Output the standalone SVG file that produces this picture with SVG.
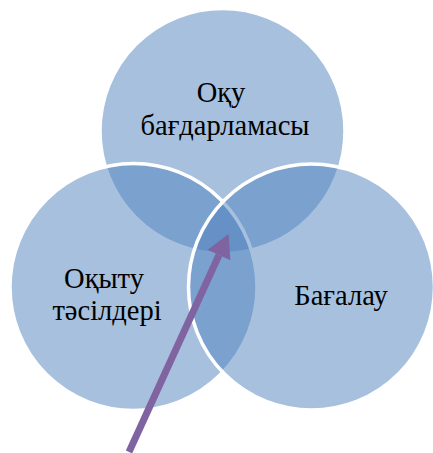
<svg xmlns="http://www.w3.org/2000/svg" width="433" height="453" viewBox="0 0 433 453">
  <style>
    .circ { fill: #4F81BD; fill-opacity: 0.5; stroke: #FFFFFF; stroke-width: 3.5; }
    .arrow { stroke: #8064A2; stroke-width: 7; fill: none; }
  </style>
  <defs>
    <marker id="head" markerUnits="userSpaceOnUse" markerWidth="24" markerHeight="26" refX="0" refY="12.5" orient="auto" overflow="visible">
      <path d="M0,0 L23,12.5 L0,25 Z" fill="#8064A2"/>
    </marker>
  </defs>
  <rect width="433" height="453" fill="#FFFFFF"/>
  <g id="node-oqu-bagdarlamasy">
    <circle class="circ" cx="222.5" cy="131" r="122.5"/>
  </g>
  <g id="node-oqytu-tasilderi">
    <circle class="circ" cx="133.5" cy="287" r="123.5"/>
  </g>
  <g id="node-bagalau">
    <circle class="circ" cx="311.5" cy="287" r="123"/>
  </g>
  <g id="labels" font-family="Liberation Serif, DejaVu Serif, serif" font-size="28.5" fill="#000000" text-anchor="middle">
    <text x="221" y="102">Оқу</text>
    <text x="225" y="135">бағдарламасы</text>
    <text x="104" y="288">Оқыту</text>
    <text x="107" y="320">тәсілдері</text>
    <text x="341" y="305">Бағалау</text>
  </g>
  <g id="connectors">
    <line class="arrow" x1="129" y1="452" x2="219" y2="255" marker-end="url(#head)"/>
  </g>
</svg>
